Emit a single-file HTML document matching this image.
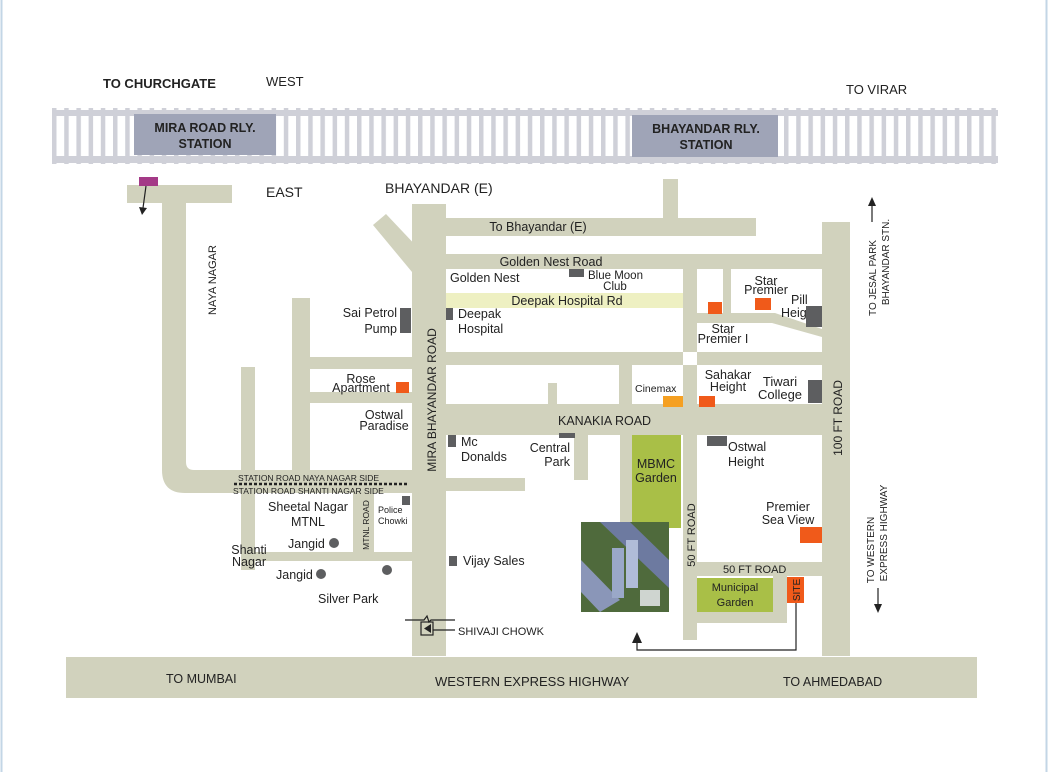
<!DOCTYPE html>
<html><head><meta charset="utf-8"><style>
html,body{margin:0;padding:0;background:#fff}
svg{display:block}
text{font-family:"Liberation Sans",sans-serif;fill:#222}
</style></head><body>
<svg width="1048" height="772" viewBox="0 0 1048 772" xmlns="http://www.w3.org/2000/svg">
<rect x="0" y="0" width="1048" height="772" fill="#fff"/>
<rect x="1.5" y="-2" width="1045" height="800" fill="none" stroke="#c3d6e6" stroke-width="2"/>
<defs>
<pattern id="sl" x="52" y="0" width="12.2" height="10" patternUnits="userSpaceOnUse">
<rect x="0" y="0" width="4.5" height="10" fill="#cfd0d8"/>
</pattern>
</defs>
<rect x="52" y="108" width="946" height="56" fill="url(#sl)"/>
<rect x="52" y="110" width="946" height="6" fill="#cfd0d8"/>
<rect x="52" y="156" width="946" height="7" fill="#cfd0d8"/>
<rect x="134" y="114" width="142" height="41" fill="#9fa4b7"/>
<rect x="632" y="115" width="146" height="42" fill="#9fa4b7"/>
<g font-weight="bold" font-size="12.5" text-anchor="middle">
<text x="205" y="132" fill="#2a2a40">MIRA ROAD RLY.</text>
<text x="205" y="148" fill="#2a2a40">STATION</text>
<text x="706" y="133" fill="#2a2a40">BHAYANDAR RLY.</text>
<text x="706" y="149" fill="#2a2a40">STATION</text>
</g>
<text x="103" y="88" font-size="13" font-weight="bold">TO CHURCHGATE</text>
<text x="266" y="86" font-size="13">WEST</text>
<text x="846" y="94" font-size="13">TO VIRAR</text>
<text x="266" y="197" font-size="14">EAST</text>
<text x="385" y="193" font-size="14">BHAYANDAR (E)</text>

<g fill="#d1d2bd">
<rect x="127" y="185" width="105" height="18"/>
<path d="M162 202 H186 V462 Q186 470 194 470 H412 V493 H185 Q162 493 162 470 Z"/>
<rect x="412" y="204" width="34" height="452"/>
<path d="M373 225 L386 214 L420 250 L412 272 Z"/>
<rect x="446" y="218" width="310" height="18"/>
<rect x="663" y="179" width="15" height="40"/>
<rect x="446" y="254" width="377" height="15"/>
<rect x="683" y="269" width="14" height="371"/>
<rect x="723" y="269" width="8" height="45"/>
<path d="M696 313 H775 L822 329 V337 L772 323 H696 Z"/>
<rect x="822" y="222" width="28" height="434"/>
<rect x="446" y="352" width="377" height="13"/>
<rect x="310" y="357" width="102" height="12"/>
<rect x="310" y="392" width="102" height="11"/>
<rect x="292" y="298" width="18" height="172"/>
<rect x="241" y="367" width="14" height="203"/>
<rect x="446" y="404" width="377" height="31"/>
<rect x="548" y="383" width="9" height="21"/>
<rect x="619" y="365" width="13" height="40"/>
<rect x="574" y="435" width="14" height="45"/>
<rect x="620" y="435" width="12" height="88"/>
<rect x="446" y="478" width="79" height="13"/>
<rect x="697" y="562" width="125" height="14"/>
<rect x="697" y="612" width="90" height="11"/>
<rect x="773" y="576" width="14" height="47"/>
<rect x="255" y="552" width="157" height="9"/>
<rect x="353" y="493" width="21" height="60"/>
<rect x="66" y="657" width="911" height="41"/>
</g>
<rect x="683" y="352" width="14" height="13" fill="#fff"/>
<rect x="446" y="293" width="237" height="15" fill="#eef0c2"/>
<rect x="632" y="435" width="49" height="93" fill="#a9bf47"/>
<rect x="697" y="578" width="76" height="34" fill="#a9bf47"/>
<rect x="581" y="522" width="88" height="90" fill="#4f6a3c"/>
<path d="M600 522 L669 588 V560 L630 522 Z" fill="#6d7aa0"/>
<path d="M581 560 L620 600 L600 612 L581 592 Z" fill="#8a96b8"/>
<rect x="612" y="548" width="12" height="50" fill="#9aa8c8"/>
<rect x="626" y="540" width="12" height="48" fill="#b0bcd8"/>
<rect x="640" y="590" width="20" height="16" fill="#cfd5d0"/>

<g fill="#5d5e60">
<rect x="569" y="269" width="15" height="8"/>
<rect x="446" y="308" width="7" height="12"/>
<rect x="400" y="308" width="11" height="25"/>
<rect x="448" y="435" width="8" height="12"/>
<rect x="559" y="433" width="16" height="5"/>
<rect x="707" y="436" width="20" height="10"/>
<rect x="402" y="496" width="8" height="9"/>
<rect x="449" y="556" width="8" height="10"/>
<rect x="806" y="306" width="16" height="21"/>
<rect x="808" y="380" width="14" height="23"/>
<circle cx="334" cy="543" r="5"/>
<circle cx="321" cy="574" r="5"/>
<circle cx="387" cy="570" r="5"/>
</g>
<g fill="#f05a1a">
<rect x="396" y="382" width="13" height="11"/>
<rect x="708" y="302" width="14" height="12"/>
<rect x="755" y="298" width="16" height="12"/>
<rect x="699" y="396" width="16" height="11"/>
<rect x="800" y="527" width="22" height="16"/>
<rect x="787" y="577" width="17" height="26"/>
</g>
<rect x="663" y="396" width="20" height="11" fill="#f5a022"/>
<rect x="139" y="177" width="19" height="9" fill="#a43a87"/>
<g stroke="#222" stroke-width="1.2" fill="none">
<line x1="146" y1="186" x2="143" y2="208"/>
<polyline points="796,603 796,650 637,650 637,640"/>
<line x1="872" y1="222" x2="872" y2="204"/>
<line x1="878" y1="588" x2="878" y2="606"/>
<polyline points="405,620 424,620 427,616 429,622 431,620 455,620"/>
<rect x="421" y="622" width="12" height="13"/>
<line x1="455" y1="630" x2="433" y2="630"/>
<line x1="234" y1="484" x2="409" y2="484" stroke-dasharray="3,2" stroke-width="2.5"/>
</g>
<g fill="#222">
<path d="M139 207 L147 208 L142 215 Z"/>
<path d="M632 643 L642 643 L637 632 Z"/>
<path d="M868 206 L876 206 L872 197 Z"/>
<path d="M874 604 L882 604 L878 613 Z"/>
<path d="M431 624 L424 628.5 L431 633 Z"/>
</g>

<g font-size="12.5">
<text x="538" y="231" text-anchor="middle">To Bhayandar (E)</text>
<text x="551" y="266" text-anchor="middle">Golden Nest Road</text>
<text x="450" y="282">Golden Nest</text>
<text x="588" y="279" font-size="11.5">Blue Moon</text>
<text x="615" y="290" font-size="11.5" text-anchor="middle">Club</text>
<text x="567" y="305" text-anchor="middle">Deepak Hospital Rd</text>
<text x="397" y="317" text-anchor="end">Sai Petrol</text>
<text x="397" y="333" text-anchor="end">Pump</text>
<text x="458" y="318">Deepak</text>
<text x="458" y="333">Hospital</text>
<text x="766" y="285" text-anchor="middle">Star</text>
<text x="766" y="294" text-anchor="middle">Premier</text>
<text x="791" y="304">Pill</text>
<text x="781" y="317">Heig</text>
<text x="723" y="333" text-anchor="middle">Star</text>
<text x="723" y="343" text-anchor="middle">Premier I</text>
<text x="361" y="383" text-anchor="middle">Rose</text>
<text x="361" y="392" text-anchor="middle">Apartment</text>
<text x="384" y="419" text-anchor="middle">Ostwal</text>
<text x="384" y="430" text-anchor="middle">Paradise</text>
<text x="635" y="392" font-size="10.5">Cinemax</text>
<text x="728" y="379" text-anchor="middle">Sahakar</text>
<text x="728" y="391" text-anchor="middle">Height</text>
<text x="780" y="386" font-size="13" text-anchor="middle">Tiwari</text>
<text x="780" y="399" font-size="13" text-anchor="middle">College</text>
<text x="558" y="425">KANAKIA ROAD</text>
<text x="461" y="446">Mc</text>
<text x="461" y="461">Donalds</text>
<text x="570" y="452" text-anchor="end">Central</text>
<text x="570" y="466" text-anchor="end">Park</text>
<text x="656" y="468" text-anchor="middle">MBMC</text>
<text x="656" y="482" text-anchor="middle">Garden</text>
<text x="728" y="451">Ostwal</text>
<text x="728" y="466">Height</text>
<text x="788" y="511" text-anchor="middle">Premier</text>
<text x="788" y="524" text-anchor="middle">Sea View</text>
<text x="723" y="573" font-size="11">50 FT ROAD</text>
<text x="735" y="591" font-size="11" text-anchor="middle">Municipal</text>
<text x="735" y="606" font-size="11" text-anchor="middle">Garden</text>
<text x="308" y="511" text-anchor="middle">Sheetal Nagar</text>
<text x="308" y="526" text-anchor="middle">MTNL</text>
<text x="378" y="513" font-size="9">Police</text>
<text x="378" y="524" font-size="9">Chowki</text>
<text x="288" y="548">Jangid</text>
<text x="276" y="579">Jangid</text>
<text x="249" y="554" text-anchor="middle">Shanti</text>
<text x="249" y="566" text-anchor="middle">Nagar</text>
<text x="318" y="603">Silver Park</text>
<text x="463" y="565">Vijay Sales</text>
<text x="458" y="635" font-size="11">SHIVAJI CHOWK</text>
<text x="166" y="683">TO MUMBAI</text>
<text x="435" y="686" font-size="13">WESTERN EXPRESS HIGHWAY</text>
<text x="783" y="686">TO AHMEDABAD</text>
<text x="238" y="481" font-size="8.5">STATION ROAD NAYA NAGAR SIDE</text>
<text x="233" y="494" font-size="8.5">STATION ROAD SHANTI NAGAR SIDE</text>
</g>
<g font-size="11">
<text transform="translate(216,280) rotate(-90)" text-anchor="middle">NAYA NAGAR</text>
<text transform="translate(436,400) rotate(-90)" text-anchor="middle" font-size="12">MIRA BHAYANDAR ROAD</text>
<text transform="translate(695,535) rotate(-90)" text-anchor="middle">50 FT ROAD</text>
<text transform="translate(800,590) rotate(-90)" text-anchor="middle" fill="#fff" font-size="10">SITE</text>
<text transform="translate(842,418) rotate(-90)" text-anchor="middle" font-size="12">100 FT ROAD</text>
<text transform="translate(369,525) rotate(-90)" text-anchor="middle" font-size="8.5">MTNL ROAD</text>
<text transform="translate(876,278) rotate(-90)" text-anchor="middle" font-size="10">TO JESAL PARK</text>
<text transform="translate(889,262) rotate(-90)" text-anchor="middle" font-size="10">BHAYANDAR STN.</text>
<text transform="translate(874,550) rotate(-90)" text-anchor="middle" font-size="10">TO WESTERN</text>
<text transform="translate(887,533) rotate(-90)" text-anchor="middle" font-size="10">EXPRESS HIGHWAY</text>
</g>
</svg>
</body></html>
